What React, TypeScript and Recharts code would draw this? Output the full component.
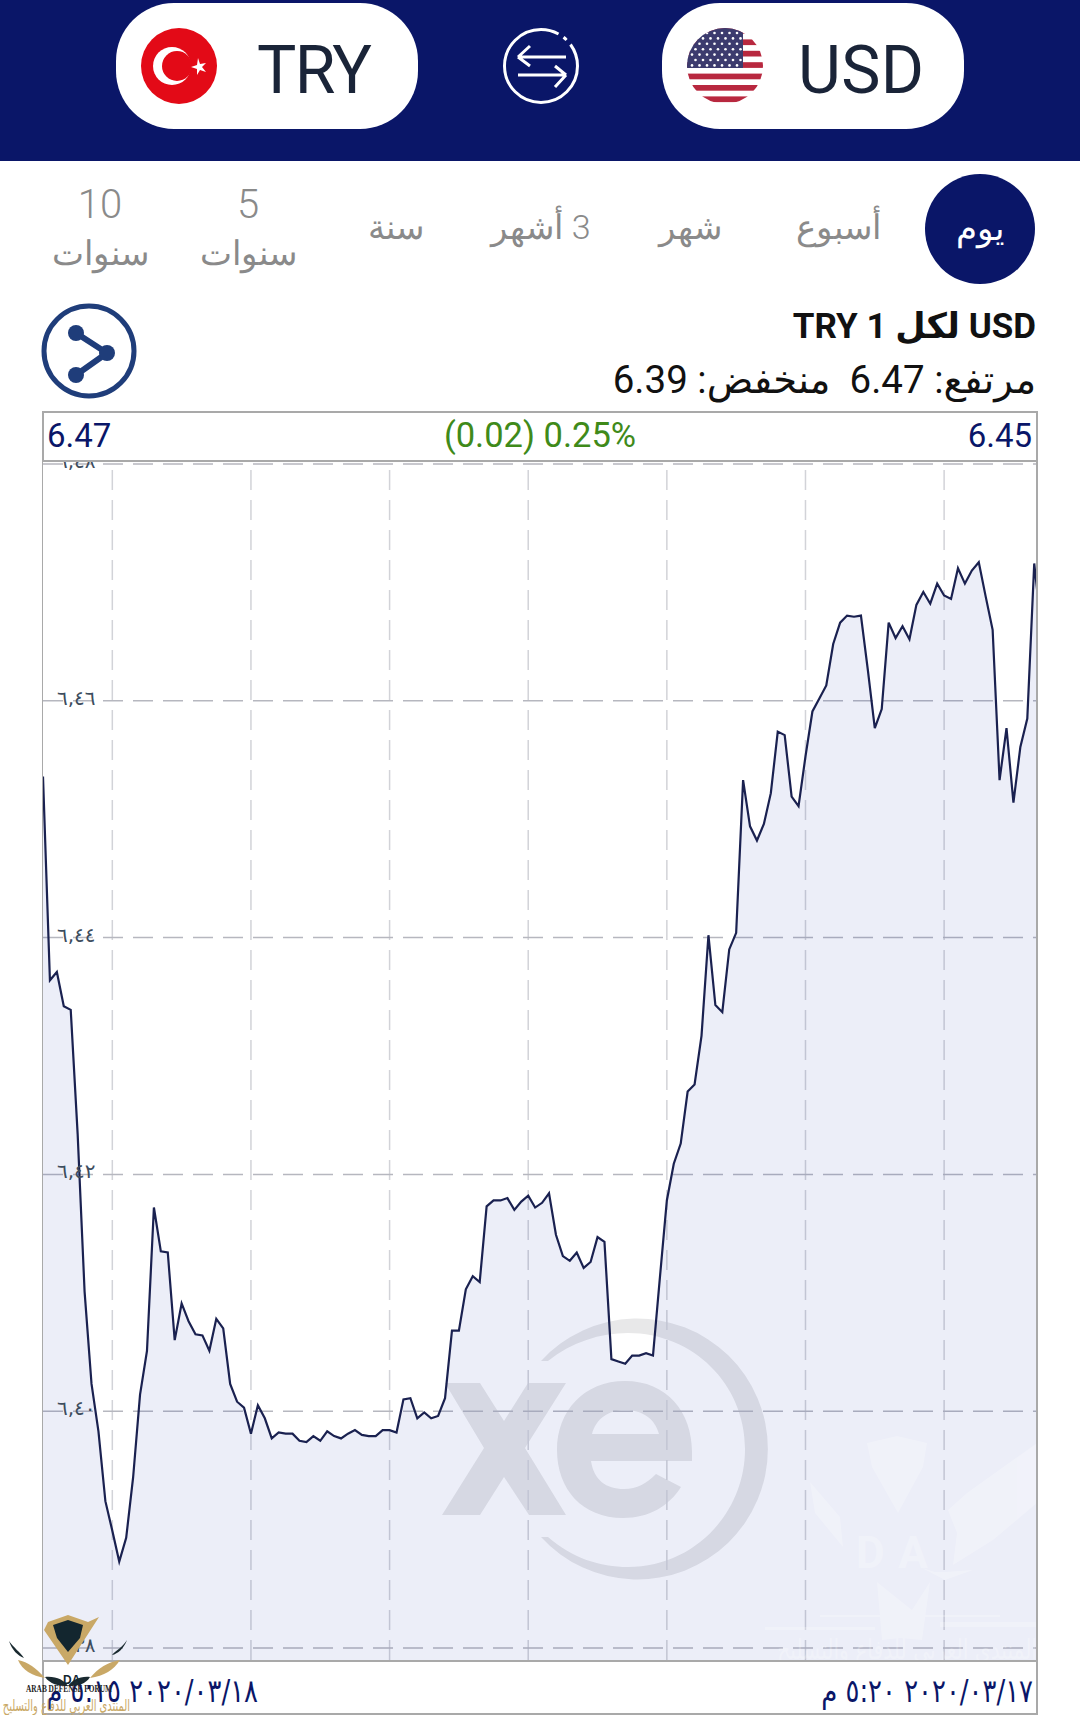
import { Area, AreaChart, CartesianGrid, XAxis, YAxis } from "recharts";

// 5-minute rate samples
const PRICES = [
  6.4536, 6.4364, 6.4371, 6.4342, 6.4339, 6.4234, 6.4101, 6.4023, 6.3983, 6.3924,
  6.3899, 6.3873, 6.3893, 6.3944, 6.4014, 6.4051, 6.4172, 6.4135, 6.4134, 6.406,
  6.4091, 6.4076, 6.4065, 6.4064, 6.4051, 6.4078, 6.407, 6.4023, 6.4008, 6.4003,
  6.3981, 6.4005, 6.3994, 6.3977, 6.3982, 6.3981, 6.3981, 6.3975, 6.3974, 6.3979,
  6.3975, 6.3983, 6.3979, 6.3977, 6.3981, 6.3984, 6.398, 6.3979, 6.3979, 6.3984,
  6.3984, 6.3982, 6.401, 6.4011, 6.3994, 6.3999, 6.3994, 6.3996, 6.4011, 6.4068,
  6.4068, 6.4103, 6.4114, 6.4109, 6.4173, 6.4178, 6.4178, 6.418, 6.417, 6.4177,
  6.4182, 6.4172, 6.4176, 6.4184, 6.4149, 6.4131, 6.4127, 6.4134, 6.4121, 6.4126,
  6.4147, 6.4143, 6.4044, 6.4042, 6.404, 6.4047, 6.4047, 6.4049, 6.4047, 6.4113,
  6.4178, 6.4209, 6.4226, 6.427, 6.4276, 6.4317, 6.4402, 6.4343, 6.4337, 6.439,
  6.4404, 6.4533, 6.4494, 6.4482, 6.4496, 6.4522, 6.4574, 6.4571, 6.4519, 6.4511,
  6.4553, 6.4591, 6.4602, 6.4613, 6.4648, 6.4666, 6.4672, 6.4671, 6.4672, 6.4626,
  6.4577, 6.4593, 6.4666, 6.4653, 6.4663, 6.4652, 6.4681, 6.4692, 6.4682, 6.4699,
  6.4689, 6.4686, 6.4712, 6.4699, 6.471, 6.4717, 6.4688, 6.466, 6.4533, 6.4577,
  6.4514, 6.4561, 6.4585, 6.4716, 6.4662,
];
const Y_TICKS = [6.38, 6.4, 6.42, 6.44, 6.46, 6.48];
const X_GRID_STEPS = [10, 30, 50, 70, 90, 110, 130];

const chartData = PRICES.map((price, step) => ({ step, price }));

const NAVY = "#0a1668";
const SANS = 'Roboto, "DejaVu Sans", sans-serif';

function toArabicDigits(text: string) {
  return text.replace(/\d/g, (d) => "٠١٢٣٤٥٦٧٨٩"[Number(d)]);
}

function PriceTick({ y, payload }: any) {
  return (
    <text
      x={57}
      y={y + 4}
      fontSize={20}
      fill="#3d4d5e"
      fontFamily='"DejaVu Sans", sans-serif'
      style={{ direction: "ltr" }}
    >
      {toArabicDigits(payload.value.toFixed(2).replace(".", ","))}
    </text>
  );
}

function XeWatermark() {
  return (
    <svg width={1080} height={1715} style={{ position: "absolute", left: 0, top: 0 }}>
      <g fill="#e8e8e9">
        <path d="M445 1383H480L504 1421L528 1383H566L525 1448L566 1515H529L504 1477L480 1515H442L484 1448Z" />
        <path
          fillRule="evenodd"
          d="M625 1381C667 1381 692 1412 692 1452V1461H591C594 1480 606 1489 624 1489C637 1489 647 1483 656 1474L681 1487C669 1506 649 1518 623 1518C582 1518 557 1489 557 1450C557 1411 584 1381 625 1381ZM592 1434H659C655 1419 643 1410 625 1410C608 1410 596 1419 592 1434Z"
        />
        <path d="M541 1361A130.500 130.500 0 1 1 541 1537H548C572 1558 600 1567 628 1567C693 1567 745 1514 745 1449C745 1384 693 1333 628 1333C600 1333 572 1342 548 1361Z" />
      </g>
    </svg>
  );
}

function DafWatermark() {
  return (
    <svg width={1080} height={1715} style={{ position: "absolute", left: 0, top: 0 }}>
      <g fill="#ffffff" opacity={0.25}>
        <path d="M867 1443L897 1436L927 1443L923 1467L898 1513L872 1467Z" />
        <path d="M1037 1443L967 1493L948 1510L957 1533L953 1565L993 1540L1037 1503Z" />
        <path d="M810 1482L815 1513L843 1547L840 1517Z" />
        <path d="M922 1568L945 1580L973 1570L945 1572L935 1572Z" />
        <path d="M877 1582L912 1610L930 1582L922 1640L900 1638L882 1640Z" />
        <path d="M765 1627H875V1630H765Z" />
        <path d="M820 1615H1000V1617H820Z" />
        <path d="M940 1622H1037V1627H940Z" />
        <text x={856} y={1568} fontSize={44} fontWeight={700} fontFamily="Roboto" letterSpacing={14}>
          DA
        </text>
        <text
          transform="translate(1037 1659) scale(0.75 1)"
          fontSize={27}
          fontFamily='"DejaVu Sans"'
          style={{ direction: "rtl" }}
        >
          المنتدى العربي للدفاع والتسليح
        </text>
      </g>
    </svg>
  );
}

function TurkishFlag() {
  return (
    <g>
      <circle cx={179} cy={66} r={38} fill="#e30a17" />
      <circle cx={172} cy={66} r={19} fill="#fff" />
      <circle cx={177} cy={66} r={15} fill="#e30a17" />
      <path
        d="M198 58L200 64L206 63L202 67L206 72L200 70L197 75L197 69L191 67L197 65Z"
        fill="#fff"
      />
    </g>
  );
}

function UsFlag() {
  const stripes = [0, 1, 2, 3, 4, 5, 6];
  const stars = [0, 1, 2, 3, 4, 5, 6];
  return (
    <g>
      <defs>
        <clipPath id="usFlag">
          <circle cx={725} cy={66} r={38} />
        </clipPath>
      </defs>
      <g clipPath="url(#usFlag)">
        <rect x={687} y={28} width={76} height={76} fill="#fff" />
        {stripes.map((s) => (
          <rect key={s} x={687} y={28 + s * 11.4} width={76} height={5.7} fill="#b8283f" />
        ))}
        <rect x={687} y={28} width={56} height={40} fill="#3c3b6e" />
        {stars.map((row) =>
          stars.map((col) => (
            <circle
              key={`${row}-${col}`}
              cx={692 + col * 7.5 + (row % 2) * 3.5}
              cy={33 + row * 5.4}
              r={1.3}
              fill="#fff"
            />
          )),
        )}
      </g>
    </g>
  );
}

function ArabicLabel({ x, y, text, size = 34, fill = "#8a8a8a" }: any) {
  return (
    <text
      x={x}
      y={y}
      fontSize={size}
      fill={fill}
      textAnchor="middle"
      fontFamily={SANS}
      fontWeight={300}
      style={{ direction: "rtl" }}
    >
      {text}
    </text>
  );
}

function TopPanel() {
  return (
    <svg width={1080} height={1715} style={{ position: "absolute", left: 0, top: 0 }}>
      <rect width={1080} height={161} fill={NAVY} />
      <rect x={116} y={3} width={302} height={126} rx={58} fill="#fff" />
      <rect x={662} y={3} width={302} height={126} rx={58} fill="#fff" />
      <TurkishFlag />
      <UsFlag />
      <text x={257} y={93} fontSize={66} fontFamily={SANS} fill="#1a2438" textLength={115}>
        TRY
      </text>
      <text x={798} y={93} fontSize={66} fontFamily={SANS} fill="#1a2438" textLength={126}>
        USD
      </text>

      <g fill="none" stroke="#fff" strokeWidth={3}>
        <circle cx={541} cy={66} r={36.5} strokeDasharray="190 6 4 6 23" />
        <path d="M518 57H566M518 57L530 46M518 57L530 66" />
        <path d="M518 75H566M566 75L555 87M566 75L555 66" />
      </g>

      <circle cx={980} cy={229} r={55} fill={NAVY} />
      <ArabicLabel x={980} y={240} text="يوم" fill="#fff" />
      <ArabicLabel x={838} y={239} text="أسبوع" />
      <ArabicLabel x={690} y={239} text="شهر" />
      <ArabicLabel x={541} y={239} text="3 أشهر" />
      <ArabicLabel x={396} y={239} text="سنة" />
      <ArabicLabel x={248} y={218} text="5" size={40} />
      <ArabicLabel x={248} y={265} text="سنوات" />
      <ArabicLabel x={100} y={218} text="10" size={40} />
      <ArabicLabel x={100} y={265} text="سنوات" />

      <g stroke="#1f3d7a" fill="none">
        <circle cx={89} cy={351} r={45} strokeWidth={5} />
        <path d="M76 333L107 353L76 375" strokeWidth={6} />
      </g>
      <g fill="#1f3d7a">
        <circle cx={76} cy={333} r={8} />
        <circle cx={107} cy={353} r={8} />
        <circle cx={76} cy={375} r={8} />
      </g>

      <text
        x={1036}
        y={338}
        fontSize={35}
        fontWeight={700}
        fontFamily={SANS}
        fill="#111"
        style={{ direction: "rtl" }}
      >
        USD لكل 1 TRY
      </text>
      <text
        x={1036}
        y={393}
        fontSize={38.5}
        fontFamily={SANS}
        fill="#111"
        style={{ direction: "rtl" }}
      >
        مرتفع: 6.47{"\u00a0\u00a0"}منخفض: 6.39
      </text>

      <rect x={43} y={412} width={994} height={49} fill="#fff" stroke="#a9a9a9" strokeWidth={2} />
      <text x={47} y={447} fontSize={33} fontFamily={SANS} fill={NAVY}>
        6.47
      </text>
      <text x={540} y={447} fontSize={34.5} fontFamily={SANS} fill="#3f8a1a" textAnchor="middle">
        (0.02) 0.25%
      </text>
      <text x={1032} y={447} fontSize={33} fontFamily={SANS} fill={NAVY} textAnchor="end">
        6.45
      </text>
    </svg>
  );
}

function BottomPanel() {
  return (
    <svg width={1080} height={1715} style={{ position: "absolute", left: 0, top: 0 }}>
      <rect x={43} y={1661} width={994} height={53} fill="#fff" stroke="#a9a9a9" strokeWidth={2} />
      <rect x={42} y={411} width={1} height={1302} fill="#a9a9a9" />
      <rect x={1036} y={411} width={2} height={1302} fill="#a9a9a9" />
      <text
        transform="translate(258 1702) scale(0.81 1)"
        fontSize={32}
        fontFamily='"DejaVu Sans"'
        fill={NAVY}
        style={{ direction: "rtl" }}
      >
        ٢٠٢٠/٠٣/١٨ ٥:١٥ م
      </text>
      <text
        transform="translate(1033 1702) scale(0.81 1)"
        fontSize={32}
        fontFamily='"DejaVu Sans"'
        fill={NAVY}
        style={{ direction: "rtl" }}
      >
        ٢٠٢٠/٠٣/١٧ ٥:٢٠ م
      </text>

      {/* forum logo stamped over the corner */}
      <path d="M48 1622L68 1615L88 1622L99 1617L68 1665L44 1630Z" fill="#c9a866" />
      <path d="M53 1625L68 1620L83 1625L80 1638L68 1652L57 1638Z" fill="#13262f" />
      <path d="M9 1641C14 1648 20 1652 24 1658C18 1656 12 1650 9 1641Z" fill="#1a2a30" />
      <path d="M127 1640C122 1648 116 1650 112 1655C118 1654 124 1648 127 1640Z" fill="#1a2a30" />
      <path d="M18 1660C28 1662 36 1668 45 1678C32 1676 22 1670 18 1660Z" fill="#c9a866" />
      <path d="M120 1660C108 1662 98 1668 90 1678C104 1676 114 1670 120 1660Z" fill="#c9a866" />
      <path d="M45 1677C56 1676 64 1680 68 1686C58 1686 50 1684 45 1677Z" fill="#1a2a30" />
      <path d="M90 1677C80 1676 72 1680 68 1686C78 1686 86 1684 90 1677Z" fill="#1a2a30" />
      <text x={63} y={1684} fontSize={12} fontWeight={700} fontFamily="Liberation Sans" fill="#13262f">
        DA
      </text>
      <text
        x={26}
        y={1692}
        fontSize={11}
        fontWeight={700}
        fontFamily="Liberation Serif"
        fill="#222"
        textLength={86}
        lengthAdjust="spacingAndGlyphs"
      >
        ARAB DEFENSE FORUM
      </text>
      <text
        transform="translate(130 1711) scale(0.62 1)"
        fontSize={16}
        fontFamily='"DejaVu Sans"'
        fill="#c9a866"
        style={{ direction: "rtl" }}
      >
        المنتدى العربي للدفاع والتسليح
      </text>
    </svg>
  );
}

export default function App() {
  return (
    <div
      style={{
        position: "absolute",
        left: 0,
        top: 0,
        width: 1080,
        height: 1715,
        background: "#fff",
        overflow: "hidden",
      }}
    >
      <XeWatermark />
      <div style={{ position: "absolute", left: 0, top: 0 }}>
        <AreaChart
          width={1080}
          height={1715}
          data={chartData}
          margin={{ top: 462, right: 43, bottom: 54, left: 42 }}
        >
          <CartesianGrid
            horizontal={false}
            verticalValues={X_GRID_STEPS}
            stroke="#d2d3d8"
            strokeWidth={1.5}
            strokeDasharray="20 10"
            strokeDashoffset={22}
          />
          <CartesianGrid
            vertical={false}
            horizontalValues={Y_TICKS}
            stroke="#b6b7bf"
            strokeWidth={1.5}
            strokeDasharray="20 10"
          />
          <XAxis
            hide
            type="number"
            dataKey="step"
            domain={[0, 143.4]}
            allowDataOverflow
          />
          <YAxis
            type="number"
            width={1}
            domain={[6.3789, 6.48017]}
            ticks={Y_TICKS}
            interval={0}
            axisLine={false}
            tickLine={false}
            tick={(props: any) => <PriceTick {...props} />}
          />
          <Area
            type="linear"
            dataKey="price"
            stroke="#1a2150"
            strokeWidth={2.2}
            fill="#0f2aa0"
            fillOpacity={0.08}
            dot={false}
            activeDot={false}
            isAnimationActive={false}
          />
        </AreaChart>
      </div>
      <DafWatermark />
      <TopPanel />
      <BottomPanel />
    </div>
  );
}
